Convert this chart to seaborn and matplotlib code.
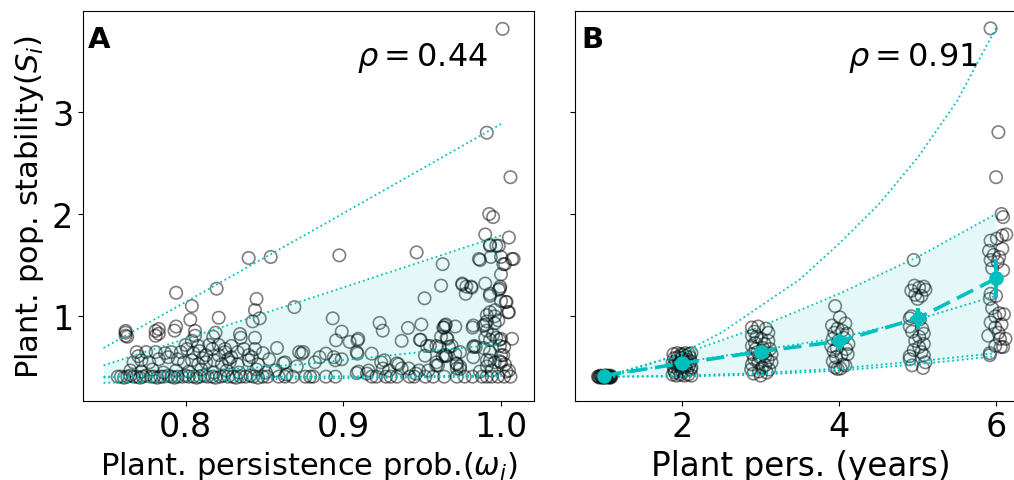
import numpy as np
import matplotlib
matplotlib.use("Agg")
import matplotlib.pyplot as plt
import seaborn as sns

# ---- panel A : stability vs persistence probability ----
# points sitting on the floor value (S ~ 0.41)
a_floor_omega = [0.757, 0.759, 0.761, 0.763, 0.765, 0.767, 0.769, 0.771, 0.773, 0.775,
                 0.778, 0.780, 0.782, 0.784, 0.786, 0.789, 0.791, 0.793, 0.795, 0.798,
                 0.800, 0.802, 0.805, 0.807, 0.809, 0.812, 0.814, 0.817, 0.819, 0.822,
                 0.824, 0.827, 0.830, 0.832, 0.835, 0.838, 0.841, 0.843, 0.846, 0.849,
                 0.852, 0.859, 0.863, 0.868, 0.876, 0.879, 0.881, 0.889, 0.895, 0.918,
                 0.921, 0.927, 0.930, 0.934, 0.942, 0.945, 0.952, 0.957, 0.964, 0.972,
                 0.977, 0.982, 0.988, 0.991, 0.994, 0.998, 1.002, 1.006]
a_floor_stab = [0.41, 0.41, 0.40, 0.41, 0.42, 0.41, 0.41, 0.40, 0.41, 0.42,
                0.41, 0.41, 0.40, 0.41, 0.41, 0.42, 0.41, 0.40, 0.41, 0.41,
                0.42, 0.41, 0.41, 0.40, 0.41, 0.42, 0.41, 0.41, 0.40, 0.41,
                0.42, 0.41, 0.41, 0.40, 0.41, 0.41, 0.42, 0.41, 0.40, 0.41,
                0.41, 0.41, 0.41, 0.41, 0.41, 0.41, 0.41, 0.41, 0.41, 0.41,
                0.41, 0.41, 0.41, 0.41, 0.41, 0.41, 0.41, 0.41, 0.41, 0.41,
                0.41, 0.41, 0.41, 0.41, 0.41, 0.41, 0.41, 0.41]

# dense cloud at low persistence
a_cloud = [(0.762, 0.81), (0.763, 0.80), (0.781, 0.81), (0.783, 0.83), (0.793, 0.86),
           (0.806, 0.81), (0.844, 0.79), (0.835, 0.79), (0.8175, 0.80), (0.815, 0.72),
           (0.800, 0.72), (0.804, 0.76), (0.808, 0.71), (0.821, 0.72), (0.825, 0.68),
           (0.829, 0.71), (0.769, 0.65), (0.775, 0.65), (0.781, 0.65), (0.787, 0.64),
           (0.791, 0.65), (0.767, 0.55), (0.772, 0.57), (0.777, 0.55), (0.783, 0.58),
           (0.789, 0.60), (0.797, 0.65), (0.801, 0.68), (0.805, 0.64), (0.809, 0.66),
           (0.813, 0.62), (0.817, 0.68), (0.821, 0.62), (0.825, 0.65), (0.829, 0.60),
           (0.833, 0.65), (0.837, 0.68), (0.840, 0.62), (0.844, 0.68), (0.799, 0.55),
           (0.804, 0.57), (0.808, 0.53), (0.813, 0.55), (0.818, 0.57), (0.823, 0.53),
           (0.828, 0.55), (0.833, 0.53), (0.840, 0.57), (0.846, 0.53), (0.858, 0.69),
           (0.863, 0.55), (0.872, 0.65), (0.845, 0.48), (0.851, 0.45), (0.857, 0.47),
           (0.864, 0.43), (0.765, 0.47), (0.772, 0.46), (0.779, 0.48), (0.786, 0.45),
           (0.794, 0.47), (0.802, 0.46), (0.810, 0.48), (0.818, 0.45), (0.826, 0.47),
           (0.834, 0.45), (0.770, 0.61), (0.795, 0.58), (0.811, 0.59), (0.827, 0.58),
           (0.842, 0.60), (0.849, 0.64), (0.853, 0.58)]

# the rest of the points
a_spread = [(1.001, 3.81), (0.991, 2.795), (1.006, 2.36), (0.9925, 2.0), (0.995, 1.97),
            (0.990, 1.80), (1.005, 1.77), (1.007, 1.56), (0.9465, 1.625), (0.8975, 1.596),
            (0.854, 1.58), (0.840, 1.57), (0.794, 1.23), (0.8197, 1.27), (0.804, 1.10),
            (0.845, 1.17), (0.844, 1.06), (0.847, 0.98), (0.8425, 0.95), (0.869, 1.09),
            (0.803, 0.967), (0.794, 0.90), (0.821, 0.986), (0.781, 0.857), (0.783, 0.876),
            (0.762, 0.857), (0.762, 0.84), (0.806, 0.857), (0.819, 0.84), (0.8345, 0.827),
            (0.963, 1.51), (0.962, 1.30), (0.9755, 1.31), (0.978, 1.29), (0.981, 1.29),
            (0.9776, 1.22), (0.9867, 1.55), (0.990, 1.32), (0.993, 1.22), (0.993, 1.20),
            (1.0, 1.41), (0.9985, 1.26), (0.9995, 1.29), (0.993, 1.69), (0.997, 1.69),
            (1.0, 1.58), (1.0015, 1.51), (0.9935, 1.58), (1.003, 1.14), (1.0045, 1.04),
            (1.007, 0.78), (0.9515, 1.176), (0.923, 0.935), (0.925, 0.86), (0.9495, 0.92),
            (0.941, 0.886), (0.937, 0.76), (0.949, 0.77), (0.955, 0.71), (0.959, 0.71),
            (0.962, 0.80), (0.964, 0.89), (0.965, 0.92), (0.971, 0.90), (0.982, 0.89),
            (0.966, 0.78), (0.967, 0.70), (0.974, 0.65), (0.960, 0.52), (0.963, 0.61),
            (0.984, 0.70), (0.990, 0.79), (0.993, 0.77), (0.997, 0.79), (0.999, 0.77),
            (0.991, 0.95), (0.996, 0.93), (0.990, 0.92), (0.996, 1.0), (0.993, 0.57),
            (0.996, 0.55), (1.0, 0.55), (0.994, 0.47), (1.0, 0.62), (1.002, 0.70),
            (1.005, 0.47), (0.935, 0.53), (0.937, 0.49), (0.929, 0.47), (0.925, 0.49),
            (0.924, 0.55), (0.916, 0.47), (0.915, 0.44), (0.9085, 0.445), (0.909, 0.635),
            (0.909, 0.765), (0.904, 0.75), (0.8954, 0.765), (0.899, 0.85), (0.8933, 0.98),
            (0.918, 0.635), (0.889, 0.635), (0.894, 0.60), (0.885, 0.60), (0.882, 0.55),
            (0.895, 0.57), (0.8736, 0.635), (0.862, 0.54), (0.8705, 0.51), (0.948, 0.47),
            (0.946, 0.44), (0.972, 0.49), (0.959, 0.52), (0.965, 0.61), (0.9645, 0.91),
            (0.9888, 0.91), (0.9983, 0.96), (0.9655, 0.79), (0.9687, 0.71), (0.991, 0.86),
            (0.995, 0.82), (1.0, 0.78), (0.983, 0.71), (0.989, 0.69), (0.993, 0.65),
            (0.9993, 0.71), (1.0014, 0.62), (0.9645, 0.62), (0.972, 0.53), (0.974, 0.51),
            (0.991, 0.57), (0.9993, 0.56), (1.0025, 0.53), (1.0035, 0.46), (0.991, 0.51),
            (0.9866, 0.46), (0.9754, 1.32), (0.9814, 1.28), (0.9993, 1.27), (1.0, 1.15),
            (1.0035, 1.14), (0.991, 1.01), (0.993, 1.04), (0.9962, 1.06), (1.005, 1.04),
            (0.986, 1.56), (1.0025, 1.51), (1.008, 1.56), (0.9986, 1.69), (0.993, 1.70),
            (0.9486, 0.77), (0.953, 0.71), (0.961, 0.70), (0.9634, 0.89), (0.9518, 0.615),
            (0.959, 0.55), (0.9655, 0.615), (0.971, 0.63), (0.9539, 0.47), (0.9718, 0.54),
            (0.974, 0.485), (0.9824, 0.91), (0.9824, 0.70), (0.9824, 0.60), (0.9096, 0.46),
            (0.926, 0.57), (0.934, 0.54), (0.9415, 0.49), (0.8746, 0.65), (0.899, 0.58),
            (0.9085, 0.65), (0.9095, 0.78)]

# quantile lines of panel A
a_line_x = [0.748, 0.874, 1.0]
a_q_upper = [0.69, 1.78, 2.88]
a_q_band_top = [0.52, 1.15, 1.79]
a_q_mid = [0.40, 0.53, 0.73]
a_q_low = [0.41, 0.41, 0.42]
a_q_bottom = [0.35, 0.39, 0.41]

# ---- panel B : stability vs persistence in years ----
b_year1 = [(0.93, 0.41), (0.95, 0.40), (0.96, 0.42), (0.98, 0.41), (0.99, 0.40),
           (1.00, 0.41), (1.01, 0.42), (1.02, 0.41), (1.03, 0.40), (1.04, 0.41),
           (1.05, 0.42), (1.06, 0.41), (1.07, 0.40), (1.08, 0.41), (1.09, 0.42),
           (1.10, 0.41), (0.94, 0.41), (0.97, 0.41), (1.00, 0.40), (1.03, 0.42),
           (1.06, 0.41), (1.09, 0.40)]
b_year2 = [(1.88, 0.43), (1.93, 0.42), (1.98, 0.43), (2.03, 0.42), (2.08, 0.43),
           (2.12, 0.42), (1.90, 0.47), (1.95, 0.48), (2.00, 0.46), (2.06, 0.47),
           (2.11, 0.48), (1.89, 0.51), (1.94, 0.52), (1.99, 0.50), (2.04, 0.51),
           (2.09, 0.52), (2.12, 0.50), (1.88, 0.55), (1.92, 0.56), (1.97, 0.55),
           (2.02, 0.57), (2.07, 0.55), (2.11, 0.56), (1.90, 0.59), (1.95, 0.60),
           (2.00, 0.59), (2.05, 0.61), (2.10, 0.60), (1.89, 0.63), (1.94, 0.64),
           (1.99, 0.63), (2.04, 0.64), (2.09, 0.63), (2.12, 0.64), (1.91, 0.45),
           (2.07, 0.58), (1.96, 0.53), (2.01, 0.62)]
b_year3 = [(2.89, 0.89), (2.97, 0.90), (3.07, 0.88), (2.92, 0.85), (3.10, 0.84),
           (2.89, 0.81), (3.01, 0.78), (3.10, 0.76), (2.95, 0.80), (2.89, 0.71),
           (2.94, 0.68), (3.03, 0.69), (3.12, 0.68), (2.90, 0.63), (2.99, 0.60),
           (3.06, 0.61), (3.14, 0.63), (2.89, 0.53), (2.97, 0.55), (3.06, 0.52),
           (3.14, 0.55), (2.91, 0.44), (3.00, 0.42), (3.08, 0.45), (2.93, 0.74),
           (3.05, 0.73), (2.96, 0.65), (3.09, 0.57), (2.92, 0.58), (3.02, 0.50),
           (2.88, 0.48), (3.11, 0.48), (2.98, 0.46), (3.04, 0.64)]
b_year4 = [(3.95, 1.10), (4.01, 0.99), (4.08, 0.93), (3.91, 0.91), (3.98, 0.88),
           (3.94, 0.84), (4.10, 0.83), (4.04, 0.86), (3.92, 0.78), (4.06, 0.79),
           (3.99, 0.76), (4.12, 0.73), (3.90, 0.71), (3.97, 0.69), (4.09, 0.68),
           (3.93, 0.66), (4.03, 0.62), (3.96, 0.60), (4.11, 0.63), (3.92, 0.56),
           (4.05, 0.53), (3.95, 0.50), (4.02, 0.49), (3.98, 0.485), (4.08, 0.52)]
b_year5 = [(4.95, 1.55), (4.96, 1.30), (5.02, 1.28), (5.08, 1.29), (4.92, 1.25),
           (5.10, 1.26), (4.97, 1.21), (5.05, 1.20), (5.00, 1.17), (4.92, 1.00),
           (4.90, 0.98), (5.03, 0.97), (4.90, 0.90), (5.06, 0.88), (4.93, 0.85),
           (5.08, 0.83), (5.02, 0.80), (4.97, 0.76), (5.08, 0.73), (5.02, 0.70),
           (4.95, 0.67), (5.05, 0.65), (4.90, 0.61), (5.08, 0.62), (5.10, 0.55),
           (4.90, 0.58), (5.07, 0.495), (4.93, 0.52)]
b_year6 = [(5.93, 3.815), (6.03, 2.80), (6.00, 2.36), (6.07, 2.00), (6.09, 1.97),
           (6.13, 1.80), (5.93, 1.74), (6.01, 1.76), (6.08, 1.79), (5.91, 1.64),
           (5.97, 1.60), (6.04, 1.58), (5.93, 1.55), (6.02, 1.53), (6.08, 1.66),
           (5.95, 1.47), (6.09, 1.45), (5.93, 1.22), (6.00, 1.20), (5.92, 1.17),
           (5.95, 1.08), (6.04, 1.03), (6.10, 1.02), (5.99, 1.00), (5.93, 0.94),
           (6.07, 0.92), (5.99, 0.89), (6.03, 0.84), (5.90, 0.81), (6.12, 0.78),
           (5.99, 0.71), (6.06, 0.70), (5.92, 0.64), (5.92, 0.62), (6.09, 0.70),
           (6.05, 0.78)]

# per-year means and error bars
b_years = [1, 2, 3, 4, 5, 6]
b_mean = [0.42, 0.54, 0.655, 0.756, 0.98, 1.37]
b_err = [0.01, 0.03, 0.03, 0.065, 0.10, 0.195]
b_mean_marker = ['o', 'o', 'o', 'D', 'D', 'o']

# quantile lines of panel B
b_upper_x = [1, 1.5, 2, 2.5, 3, 3.5, 4, 4.5, 5, 5.5, 6]
b_q_upper = [0.41, 0.51, 0.64, 0.84, 1.10, 1.36, 1.71, 2.09, 2.55, 3.10, 3.82]
b_q_band_top = [0.41, 0.63, 0.90, 1.22, 1.58, 2.00]
b_q_mid = [0.41, 0.55, 0.67, 0.79, 0.97, 1.20]
b_q_low = [0.41, 0.42, 0.445, 0.49, 0.56, 0.64]
b_q_bottom = [0.41, 0.41, 0.43, 0.47, 0.53, 0.61]

cyan = '#00bfbf'
pts = dict(s=80, facecolor='none', edgecolor='k', alpha=0.5, linewidth=1.2, marker='o')
qline = dict(color=cyan, ls=':', lw=1.3)

fig = plt.figure(figsize=(10.14, 4.81), dpi=100)
ax_a = fig.add_axes([0.0819, 0.1649, 0.4444, 0.8102])
ax_b = fig.add_axes([0.5671, 0.1649, 0.4444, 0.8102], sharey=ax_a)

# panel A
a_pts = np.array(a_cloud + a_spread)
sns.scatterplot(x=a_floor_omega, y=a_floor_stab, ax=ax_a, **pts)
sns.scatterplot(x=a_pts[:, 0], y=a_pts[:, 1], ax=ax_a, **pts)
ax_a.fill_between(a_line_x, a_q_bottom, a_q_band_top, color=cyan, alpha=0.1, lw=0)
for q in [a_q_upper, a_q_band_top, a_q_mid, a_q_low, a_q_bottom]:
    ax_a.plot(a_line_x, q, **qline)

# panel B
b_pts = np.array(b_year1 + b_year2 + b_year3 + b_year4 + b_year5 + b_year6)
sns.scatterplot(x=b_pts[:, 0], y=b_pts[:, 1], ax=ax_b, **pts)
ax_b.fill_between(b_years, b_q_bottom, b_q_band_top, color=cyan, alpha=0.1, lw=0)
ax_b.plot(b_upper_x, b_q_upper, **qline)
for q in [b_q_band_top, b_q_mid, b_q_low, b_q_bottom]:
    ax_b.plot(b_years, q, **qline)
ax_b.plot(b_years, b_mean, color=cyan, ls='--', lw=2.6, dashes=(5, 2.2), zorder=4)
for xv, mv, ev, mk in zip(b_years, b_mean, b_err, b_mean_marker):
    ax_b.errorbar(xv, mv, yerr=ev, fmt=mk, color=cyan, ms=9.5 if mk == 'o' else 8.5,
                  elinewidth=2.8, capsize=0, zorder=5)

ax_a.set_xlim(0.735, 1.0207)
ax_b.set_xlim(0.637, 6.377)
ax_a.set_ylim(0.175, 3.985)
ax_a.set_xticks([0.8, 0.9, 1.0])
ax_b.set_xticks([2, 4, 6])
ax_a.set_yticks([1, 2, 3])

for ax in (ax_a, ax_b):
    ax.tick_params(labelsize=24)
ax_b.tick_params(labelleft=False)

ax_a.set_ylabel('Plant. pop. stability($S_i$)', fontsize=22)
ax_a.set_xlabel(r'Plant. persistence prob.($\omega_i$)', fontsize=22)
ax_b.set_xlabel('Plant pers. (years)', fontsize=23.5)

ax_a.text(0.899, 0.882, r'$\rho = 0.44$', transform=ax_a.transAxes,
          ha='right', va='center', fontsize=23)
ax_b.text(0.894, 0.882, r'$\rho = 0.91$', transform=ax_b.transAxes,
          ha='right', va='center', fontsize=23)
ax_a.text(0.011, 0.965, 'A', transform=ax_a.transAxes, ha='left', va='top',
          fontsize=21, fontweight='bold')
ax_b.text(0.013, 0.965, 'B', transform=ax_b.transAxes, ha='left', va='top',
          fontsize=21, fontweight='bold')

fig.savefig('out.png', dpi=100)
